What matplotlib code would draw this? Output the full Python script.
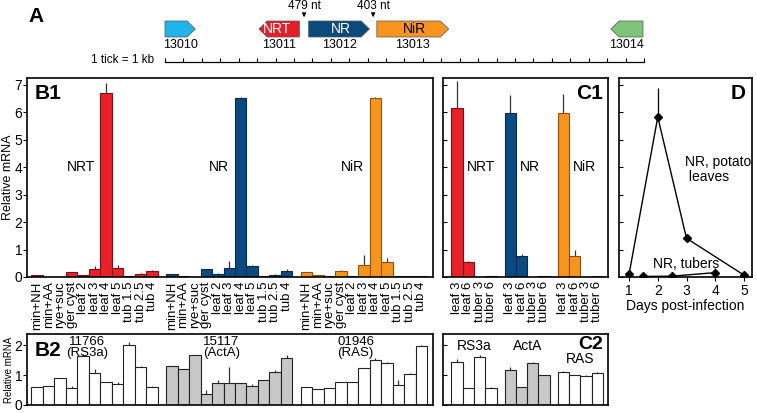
import matplotlib
matplotlib.use("Agg")
import matplotlib.pyplot as plt
from matplotlib.patches import Polygon
import numpy as np

plt.rcParams['font.family'] = ['Liberation Sans', 'DejaVu Sans']

# ---- data ----
conditions = ['min+NH', 'min+AA', 'rye+suc', 'ger cyst', 'leaf 2', 'leaf 3',
              'leaf 4', 'leaf 5', 'tub 1.5', 'tub 2.5', 'tub 4']
b1_names = ['NRT', 'NR', 'NiR']
nrt_vals = [0.07, 0, 0, 0.17, 0.08, 0.28, 6.70, 0.34, 0.04, 0.10, 0.22]
nrt_err = [0, 0, 0, 0.02, 0, 0.12, 0.37, 0.08, 0, 0.05, 0.03]
nr_vals = [0.10, 0.05, 0, 0.28, 0.11, 0.32, 6.52, 0.41, 0.02, 0.08, 0.23]
nr_err = [0, 0, 0, 0, 0.02, 0.28, 0.04, 0.04, 0, 0.04, 0.05]
nir_vals = [0.20, 0.09, 0.04, 0.21, 0.05, 0.44, 6.52, 0.54, 0.03, 0.05, 0.04]
nir_err = [0, 0, 0, 0.03, 0, 0.35, 0.03, 0.14, 0, 0, 0]

b2_names = ['11766\n(RS3a)', '15117\n(ActA)', '01946\n(RAS)']
rs3a_vals = [0.61, 0.63, 0.91, 0.58, 1.63, 1.06, 0.78, 0.70, 2.00, 1.28, 0.59]
rs3a_err = [0, 0, 0, 0.05, 0.07, 0.13, 0, 0.08, 0.09, 0.02, 0.03]
acta_vals = [1.30, 1.19, 1.67, 0.37, 0.72, 0.74, 0.72, 0.65, 0.83, 1.09, 1.57]
acta_err = [0, 0, 0, 0.13, 0.11, 0.54, 0, 0.04, 0.02, 0.09, 0.10]
ras_vals = [0.59, 0.53, 0.56, 0.78, 0.78, 1.22, 1.50, 1.39, 0.67, 1.03, 1.98]
ras_err = [0, 0, 0, 0, 0, 0.02, 0.07, 0.04, 0.17, 0.03, 0.02]

c_conditions = ['leaf 3', 'leaf 6', 'tuber 3', 'tuber 6']
c1_nrt = [6.15, 0.55, 0, 0.03]
c1_nrt_err = [0.99, 0.05, 0, 0]
c1_nr = [5.96, 0.78, 0, 0.02]
c1_nr_err = [0.66, 0.07, 0, 0]
c1_nir = [5.96, 0.78, 0, 0.04]
c1_nir_err = [0.69, 0.19, 0, 0]

c2_names = ['RS3a', 'ActA', 'RAS']
c2_rs3a = [1.43, 0.56, 1.61, 0.56]
c2_rs3a_err = [0.11, 0.02, 0.05, 0.03]
c2_acta = [1.17, 0.59, 1.40, 0.99]
c2_acta_err = [0.10, 0.02, 0.02, 0.02]
c2_ras = [1.09, 1.00, 0.98, 1.06]
c2_ras_err = [0.03, 0.01, 0.02, 0.03]

d_leaf_days = [1, 2, 3, 5]
d_leaf_vals = [0.10, 5.83, 1.41, 0.07]
d_leaf_err = [0, 1.07, 0, 0]
d_tuber_days = [1.5, 2.5, 4]
d_tuber_vals = [0.02, 0.03, 0.16]
d_tuber_err = [0, 0, 0.15]

# gene map (kb along the contig)
genes = ['13010', '13011', '13012', '13013', '13014']
gene_start = [0.0, 5.1, 7.8, 11.5, 24.2]
gene_end = [1.65, 7.3, 11.1, 15.4, 25.95]
gene_strand = [1, -1, 1, 1, -1]
gene_names = ['', 'NRT', 'NR', 'NiR', '']
gene_colors = ['#22b4e8', '#e3202a', '#0c4a7c', '#f7941d', '#7dc47a']
gap_notes = ['479 nt', '403 nt']
scale_kb = 26

red, blue, orange = '#e8212b', '#0b4a80', '#f7941d'
gray = '#c8c8c8'

W, H = 757, 413
fig = plt.figure(figsize=(W / 100, H / 100), dpi=100)


def frac(l, t, r, b):
    return [l / W, 1 - b / H, (r - l) / W, (b - t) / H]


def bars(ax, x, vals, errs, color, edge):
    ax.bar(x, vals, width=1.0, color=color, edgecolor=edge, linewidth=0.8, zorder=2)
    for xi, v, e in zip(x, vals, errs):
        if e > 0:
            ax.vlines(xi, v, v + e, color='#333333', linewidth=0.9, zorder=1)


# ---- panel A ----
axA = fig.add_axes([0, 1 - 72 / H, 1, 72 / H])
px_per_kb = 18.42
axA.set_xlim(-165 / px_per_kb, (W - 165) / px_per_kb)
axA.set_ylim(72, 0)
axA.axis('off')
for g, s, e, st, nm, c in zip(genes, gene_start, gene_end, gene_strand, gene_names, gene_colors):
    tip = 0.45
    y0, y1, ym = 21, 37, 29
    if st > 0:
        pts = [(s, y0), (e - tip, y0), (e, ym), (e - tip, y1), (s, y1)]
    else:
        pts = [(e, y0), (s + tip, y0), (s, ym), (s + tip, y1), (e, y1)]
    axA.add_patch(Polygon(pts, closed=True, facecolor=c, edgecolor='#555555', linewidth=0.5))
    if nm:
        axA.text((s + e) / 2 + st * 0.1, ym, nm, ha='center', va='center', fontsize=10,
                 color='black' if nm == 'NiR' else 'white')
    axA.text((s + e) / 2, 45, g, ha='center', va='center', fontsize=9)
for i, note in enumerate(gap_notes):
    xg = (gene_end[i + 1] + gene_start[i + 2]) / 2
    axA.text(xg, 6, note, ha='center', va='center', fontsize=8.5)
    axA.annotate('', xy=(xg, 20), xytext=(xg, 11),
                 arrowprops=dict(arrowstyle='-|>', color='black', lw=0.7, mutation_scale=6))
axA.plot([0, scale_kb], [62, 62], color='black', lw=0.9)
axA.vlines(np.arange(scale_kb + 1), 58, 62, color='black', lw=0.8)
axA.text(-0.6, 60, '1 tick = 1 kb', ha='right', va='center', fontsize=8.5)
axA.text(28 / W, 1 - 17 / 72, 'A', transform=axA.transAxes, fontsize=15,
         fontweight='bold', va='center')

# ---- panel B1 ----
gap = 0.7
offsets = [0, 11 + gap, 2 * (11 + gap)]
axB1 = fig.add_axes(frac(27, 78, 433, 277))
idx = np.arange(len(conditions))
b1_sets = [(nrt_vals, nrt_err, red, '#7a1015'), (nr_vals, nr_err, blue, '#062a4a'),
           (nir_vals, nir_err, orange, '#8a5210')]
ticks, labels = [], []
for off, (v, e, c, ec), nm in zip(offsets, b1_sets, b1_names):
    bars(axB1, idx + off, v, e, c, ec)
    axB1.text(off + 5.0, 4.0, nm, ha='right', va='center', fontsize=10)
    ticks += list(idx + off)
    labels += conditions
axB1.set_xlim(-0.89, offsets[2] + 10.5 + 0.52)
axB1.set_ylim(0, 7.25)
axB1.set_yticks(range(8))
axB1.set_xticks(ticks)
axB1.set_xticklabels(labels, rotation=90, fontsize=9.5)
axB1.tick_params(axis='x', length=0, pad=3)
axB1.tick_params(axis='y', direction='out', length=3, labelsize=10, pad=0.5)
axB1.set_ylabel('Relative mRNA', fontsize=9)
axB1.yaxis.set_label_coords(-13 / 406, 0.5)
axB1.text(0.02, 0.97, 'B1', transform=axB1.transAxes, fontsize=15, fontweight='bold', va='top')

# ---- panel B2 ----
axB2 = fig.add_axes(frac(27, 334, 433, 405))
b2_sets = [(rs3a_vals, rs3a_err, 'white'), (acta_vals, acta_err, gray), (ras_vals, ras_err, 'white')]
for off, (v, e, c), nm in zip(offsets, b2_sets, b2_names):
    bars(axB2, idx + off, v, e, c, '#222222')
    axB2.text(off + 4.3, 1.92, nm, ha='center', va='center', fontsize=9.5, linespacing=0.9)
axB2.set_xlim(-0.89, offsets[2] + 10.5 + 0.52)
axB2.set_ylim(0, 2.37)
axB2.set_yticks([0, 1, 2])
axB2.set_xticks([])
axB2.tick_params(axis='y', direction='out', length=3, labelsize=10, pad=0.5)
axB2.set_ylabel('Relative mRNA', fontsize=7)
axB2.yaxis.set_label_coords(-13 / 406, 0.5)
axB2.text(0.02, 0.9, 'B2', transform=axB2.transAxes, fontsize=15, fontweight='bold', va='top')

# ---- panel C1 ----
c_off = [0, 4 + gap, 2 * (4 + gap)]
cidx = np.arange(len(c_conditions))
axC1 = fig.add_axes(frac(443, 78, 608, 277))
c1_sets = [(c1_nrt, c1_nrt_err, red, '#7a1015'), (c1_nr, c1_nr_err, blue, '#062a4a'),
           (c1_nir, c1_nir_err, orange, '#8a5210')]
cticks, clabels = [], []
for off, (v, e, c, ec), nm in zip(c_off, c1_sets, b1_names):
    bars(axC1, cidx + off, v, e, c, ec)
    axC1.text(off + 0.85, 4.0, nm, ha='left', va='center', fontsize=10)
    cticks += list(cidx + off)
    clabels += c_conditions
axC1.set_xlim(-1.25, c_off[2] + 3.5 + 0.45)
axC1.set_ylim(0, 7.25)
axC1.set_yticks(range(8))
axC1.set_yticklabels([])
axC1.set_xticks(cticks)
axC1.set_xticklabels(clabels, rotation=90, fontsize=9.5)
axC1.tick_params(axis='x', length=0, pad=3)
axC1.tick_params(axis='y', direction='in', length=3)
axC1.text(0.97, 0.97, 'C1', transform=axC1.transAxes, fontsize=15, fontweight='bold',
          ha='right', va='top')

# ---- panel C2 ----
axC2 = fig.add_axes(frac(443, 334, 608, 405))
c2_sets = [(c2_rs3a, c2_rs3a_err, 'white'), (c2_acta, c2_acta_err, gray), (c2_ras, c2_ras_err, 'white')]
c2_label_pos = [(1.5, 1.97), (1.5, 1.97), (1.5, 1.53)]
for off, (v, e, c), nm, (lx, ly) in zip(c_off, c2_sets, c2_names, c2_label_pos):
    bars(axC2, cidx + off, v, e, c, '#222222')
    axC2.text(off + lx, ly, nm, ha='center', va='center', fontsize=10)
axC2.set_xlim(-1.25, c_off[2] + 3.5 + 0.45)
axC2.set_ylim(0, 2.37)
axC2.set_yticks([0, 1, 2])
axC2.set_yticklabels([])
axC2.set_xticks([])
axC2.tick_params(axis='y', direction='in', length=3)
axC2.text(0.97, 0.97, 'C2', transform=axC2.transAxes, fontsize=14, fontweight='bold',
          ha='right', va='top')

# ---- panel D ----
axD = fig.add_axes(frac(619, 78, 752, 277))
axD.plot(d_leaf_days, d_leaf_vals, color='black', lw=1.0, marker='D', markersize=4, zorder=3)
axD.plot(d_tuber_days, d_tuber_vals, color='black', lw=1.0, marker='D', markersize=4, zorder=3)
for xd, v, e in zip(d_leaf_days + d_tuber_days, d_leaf_vals + d_tuber_vals, d_leaf_err + d_tuber_err):
    if e > 0:
        axD.vlines(xd, v, v + e, color='black', lw=0.9)
axD.text(2.95, 4.45, 'NR, potato\n leaves', ha='left', va='top', fontsize=10, linespacing=1.1)
axD.text(2.98, 0.22, 'NR, tubers', ha='center', va='bottom', fontsize=10)
axD.set_xlim(0.65, 5.28)
axD.set_ylim(0, 7.25)
axD.set_xticks([1, 2, 3, 4, 5])
axD.set_yticks(range(8))
axD.set_yticklabels([])
axD.tick_params(axis='y', direction='in', length=3)
axD.tick_params(axis='x', direction='out', length=3, labelsize=10, pad=2)
axD.set_xlabel('Days post-infection', fontsize=10, labelpad=1)
axD.text(0.95, 0.97, 'D', transform=axD.transAxes, fontsize=15, fontweight='bold',
         ha='right', va='top')

for ax in [axB1, axB2, axC1, axC2, axD]:
    for sp in ax.spines.values():
        sp.set_linewidth(1.2)

fig.savefig('out.png', dpi=100)
